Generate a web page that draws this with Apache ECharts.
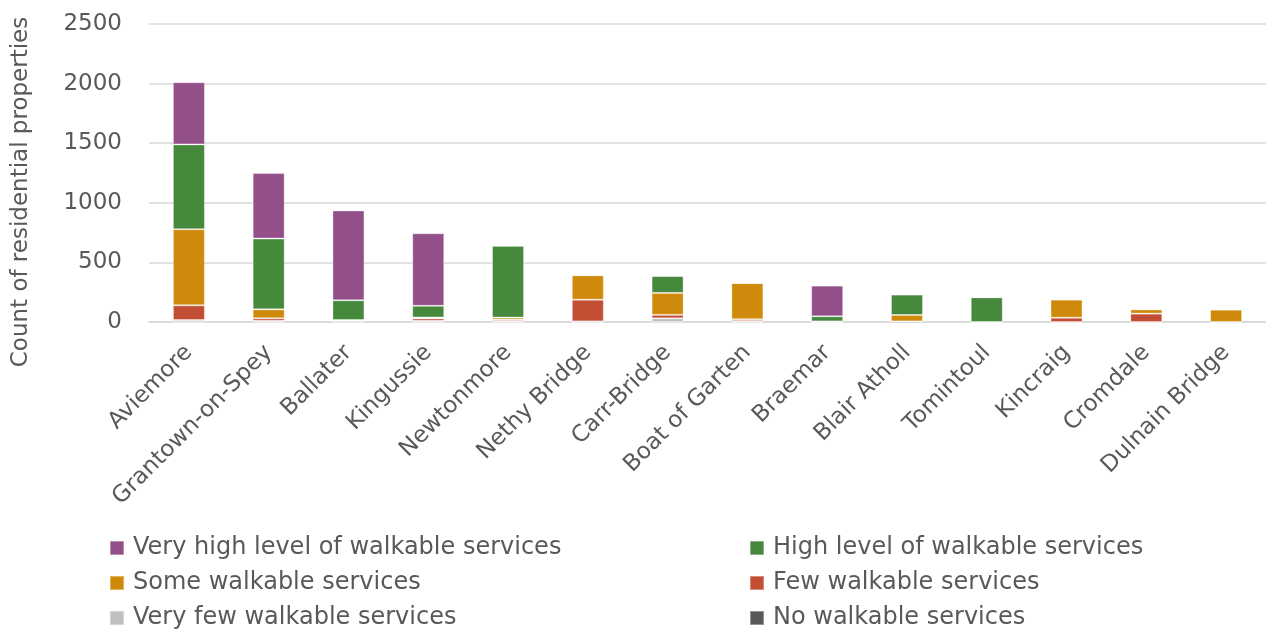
<!DOCTYPE html>
<html>
<head>
<meta charset="utf-8">
<script src="https://cdn.jsdelivr.net/npm/echarts@6/dist/echarts.min.js"></script>
<style>html,body{margin:0;padding:0;background:#fff;}#c{width:1266px;height:632px;}</style>
</head>
<body>
<div id="c"></div>
<script>
const categories = ['Aviemore','Grantown-on-Spey','Ballater','Kingussie','Newtonmore','Nethy Bridge','Carr-Bridge','Boat of Garten','Braemar','Blair Atholl','Tomintoul','Kincraig','Cromdale','Dulnain Bridge'];
const noWalkable     = [0, 0, 0, 0, 0, 0, 0, 0, 0, 5, 0, 0, 0, 0];
const veryFew        = [17, 10, 12, 10, 8, 5, 31, 8, 0, 0, 0, 0, 0, 0];
const few            = [123, 21, 5, 20, 12, 182, 29, 15, 0, 0, 0, 36, 70, 0];
const some           = [639, 75, 0, 8, 17, 205, 184, 304, 5, 54, 0, 152, 36, 104];
const high           = [711, 594, 165, 98, 602, 0, 142, 0, 43, 171, 207, 0, 0, 0];
const veryHigh       = [521, 549, 754, 608, 0, 0, 0, 0, 257, 0, 0, 0, 0, 0];
const yTicks = [0, 500, 1000, 1500, 2000, 2500];

const FONT = 'DejaVu Sans';
const TXT = '#595959';
const FS = 23;
const seriesDefs = [
  {name: 'No walkable services', data: noWalkable, color: '#595959'},
  {name: 'Very few walkable services', data: veryFew, color: '#BFBFBF'},
  {name: 'Few walkable services', data: few, color: '#C24E34'},
  {name: 'Some walkable services', data: some, color: '#CF8A0C'},
  {name: 'High level of walkable services', data: high, color: '#46883C'},
  {name: 'Very high level of walkable services', data: veryHigh, color: '#934F8A'}
];
const chart = echarts.init(document.getElementById('c'));
const legendCommon = {
  orient: 'vertical', itemWidth: 14, itemHeight: 14, itemGap: 11, icon: 'rect', padding: 0,
  textStyle: {fontFamily: FONT, fontSize: 24, color: TXT, lineHeight: 24, padding: [0,0,0,4]},
  selectedMode: false
};
chart.setOption({
  animation: false,
  textStyle: {fontFamily: FONT},
  grid: {left: 149, right: 0, top: 24, bottom: 310, containLabel: false, outerBoundsMode: 'none'},
  legend: [
    Object.assign({left: 109, top: 536, data: ['Very high level of walkable services','Some walkable services','Very few walkable services']}, legendCommon),
    Object.assign({left: 749, top: 536, data: ['High level of walkable services','Few walkable services','No walkable services']}, legendCommon)
  ],
  xAxis: {
    type: 'category', data: categories,
    axisLine: {lineStyle: {color: '#D9D9D9', width: 1.5}},
    axisTick: {show: false},
    axisLabel: {rotate: 45, interval: 0, fontFamily: FONT, fontSize: FS, color: TXT, margin: 27}
  },
  yAxis: {
    type: 'value', min: yTicks[0], max: yTicks[yTicks.length-1], interval: 500,
    name: 'Count of residential properties', nameLocation: 'middle', nameGap: 116,
    nameTextStyle: {fontFamily: FONT, fontSize: FS, color: TXT, padding: [0, 38, 0, 0]},
    axisLine: {show: false}, axisTick: {show: false},
    axisLabel: {fontFamily: FONT, fontSize: FS, color: TXT, margin: 27, formatter: v => String(v)},
    splitLine: {lineStyle: {color: '#D9D9D9', width: 1.5}}
  },
  series: seriesDefs.map(s => ({
    name: s.name, type: 'bar', stack: 'total', data: s.data, barWidth: 32,
    itemStyle: {color: s.color, borderColor: 'rgba(255,255,255,0.35)', borderWidth: 1}
  }))
});
</script>
</body>
</html>
